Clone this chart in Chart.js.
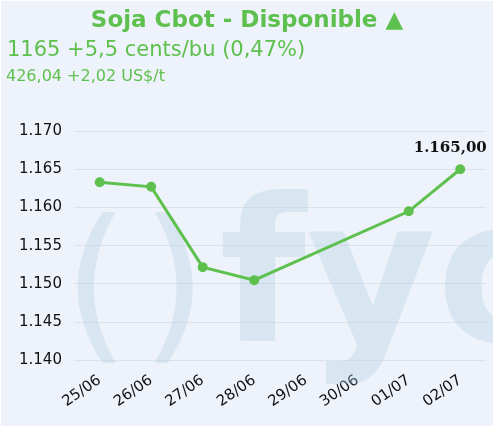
<!DOCTYPE html>
<html><head><meta charset="utf-8">
<script src="https://cdn.jsdelivr.net/npm/chart.js@4"></script>
<style>
body{margin:0;background:#fff;}
#wrap{position:relative;width:492px;height:425px;margin:1px;background:#eef2fa;font-family:"DejaVu Sans",Verdana,sans-serif;}
#t1{position:absolute;top:5px;left:0;width:100%;text-align:center;color:#5ec04e;font-weight:bold;font-size:23px;}
#t2{position:absolute;top:36px;left:6px;color:#5ec04e;font-size:21px;}
#t3{position:absolute;top:65px;left:5px;color:#5ec04e;font-size:16px;}
canvas{position:absolute;left:0;top:0;}
</style></head><body>
<div id="wrap">
<canvas id="c" width="492" height="425"></canvas>
<div id="t1">Soja Cbot - Disponible ▲</div>
<div id="t2">1165 +5,5 cents/bu (0,47%)</div>
<div id="t3">426,04 +2,02 US$/t</div>
</div>
<script>
const categories=["25/06","26/06","27/06","28/06","29/06","30/06","01/07","02/07"];
const values=[1.1633,1.1627,1.1522,1.1505,null,null,1.1595,1.1650];
const lastLabel="1.165,00";
const wm={id:'wm',beforeDatasetsDraw(ch){const c=ch.ctx;c.save();c.fillStyle='rgba(170,205,225,0.32)';
c.font='bold 200px "DejaVu Sans"';c.textBaseline='alphabetic';c.fillText('fyo',218,340);
c.font='170px "DejaVu Sans"';c.fillText('(',62,340);c.fillText(')',140,340);c.restore();},
afterDatasetsDraw(ch){const m=ch.getDatasetMeta(0);const p=m.data[values.length-1];const c=ch.ctx;c.save();
c.font='bold 15px "DejaVu Serif"';c.fillStyle='#111';c.textAlign='center';c.fillText(lastLabel,p.x-10,p.y-17);c.restore();}};
new Chart(document.getElementById('c'),{type:'line',data:{labels:categories,datasets:[{data:values,borderColor:'#5ec04e',backgroundColor:'#5ec04e',borderWidth:3,pointRadius:3.5,spanGaps:true,tension:0}]},
options:{responsive:false,animation:false,layout:{padding:{top:130,right:4,left:6,bottom:12}},plugins:{legend:{display:false},tooltip:{enabled:false}},
scales:{y:{min:1.14,max:1.17,ticks:{stepSize:0.005,color:'#111',font:{size:15,family:'DejaVu Sans'},padding:12,callback:v=>v.toFixed(3)},grid:{color:'#dde2ea',drawTicks:false},border:{display:false}},
x:{offset:true,ticks:{color:'#111',font:{size:15,family:'DejaVu Sans'},maxRotation:35,minRotation:35},grid:{display:false},border:{display:false}}}},plugins:[wm]});
</script></body></html>
